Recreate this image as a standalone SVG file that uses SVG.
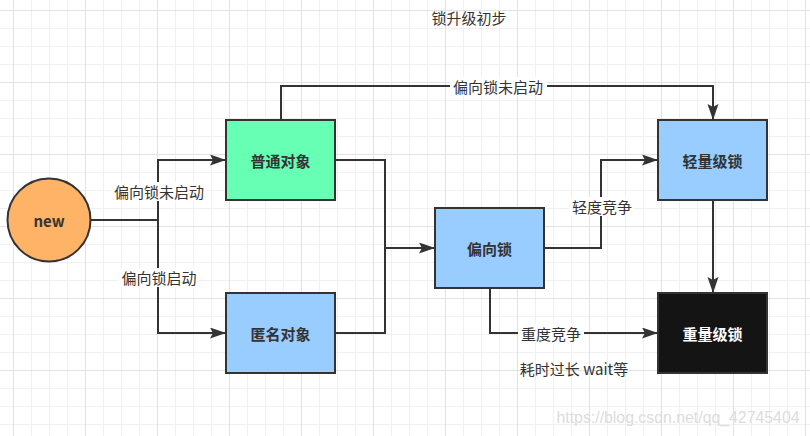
<svg xmlns="http://www.w3.org/2000/svg" width="810" height="436" viewBox="0 0 810 436">
  <defs>
    <pattern id="grid" patternUnits="userSpaceOnUse" x="13" y="10" width="72" height="72">
      <path d="M18.5,0 V72 M36.5,0 V72 M54.5,0 V72 M0,18.5 H72 M0,36.5 H72 M0,54.5 H72" stroke="#f0f0f0" stroke-width="1" fill="none"/>
      <path d="M0.5,0 V72 M0,0.5 H72" stroke="#e2e2e2" stroke-width="1" fill="none"/>
    </pattern>
    <marker id="arrow" markerUnits="userSpaceOnUse" markerWidth="18" markerHeight="12" refX="15" refY="5.5" orient="auto">
      <path d="M0,0 L16,5.5 L0,11 L3,5.5 Z" fill="#333333"/>
    </marker>
  </defs>
  <style>
    .edge { fill: none; stroke: #333333; stroke-width: 2; }
    .arr { marker-end: url(#arrow); }
    .box { stroke: #333333; stroke-width: 2; }
    .node-text { font-family: "Noto Sans CJK SC", "Liberation Sans", sans-serif; font-size: 15px; font-weight: bold; fill: #333333; text-anchor: middle; dominant-baseline: central; }
    .label { font-family: "Noto Sans CJK SC", "Liberation Sans", sans-serif; font-size: 15px; fill: #333333; text-anchor: middle; dominant-baseline: central; }
    .lbg { fill: #ffffff; }
  </style>

  <rect x="0" y="0" width="810" height="436" fill="#ffffff"/>
  <rect x="0" y="0" width="810" height="436" fill="url(#grid)"/>

  <text class="label" x="469" y="17">锁升级初步</text>

  <g id="connectors">
    <path class="edge" d="M91,220 H158" stroke-width="3"/>
    <path class="edge arr" d="M158,220 V160 H225"/>
    <path class="edge arr" d="M158,220 V333 H225"/>
    <path class="edge arr" d="M335,160 H385 V248 H434"/>
    <path class="edge" d="M335,333 H385 V248"/>
    <path class="edge arr" d="M281,120 V86 H713 V119"/>
    <path class="edge arr" d="M544,248 H601 V160 H657"/>
    <path class="edge arr" d="M490,288 V333 H657"/>
    <path class="edge arr" d="M713,200 V292"/>

    <rect class="lbg" x="111" y="182" width="96" height="19"/>
    <text class="label" x="159" y="191">偏向锁未启动</text>
    <rect class="lbg" x="119" y="268" width="80" height="19"/>
    <text class="label" x="159" y="277">偏向锁启动</text>
    <rect class="lbg" x="450" y="77" width="97" height="19"/>
    <text class="label" x="498" y="86">偏向锁未启动</text>
    <rect class="lbg" x="569" y="197" width="65" height="19"/>
    <text class="label" x="602" y="206">轻度竞争</text>
    <rect class="lbg" x="518" y="324" width="66" height="19"/>
    <text class="label" x="551" y="333">重度竞争</text>
  </g>

  <g id="node-new">
    <circle class="box" cx="49" cy="220" r="41.5" fill="#FFB366"/>
    <text class="node-text" x="49" y="220" font-size="16">new</text>
  </g>
  <g id="node-putong">
    <rect class="box" x="226" y="120" width="109" height="80" fill="#66FFB3"/>
    <text class="node-text" x="280.5" y="160">普通对象</text>
  </g>
  <g id="node-niming">
    <rect class="box" x="226" y="293" width="109" height="80" fill="#99CCFF"/>
    <text class="node-text" x="280.5" y="333">匿名对象</text>
  </g>
  <g id="node-pianxiang">
    <rect class="box" x="435" y="208" width="109" height="80" fill="#99CCFF"/>
    <text class="node-text" x="489.5" y="248">偏向锁</text>
  </g>
  <g id="node-qingliang">
    <rect class="box" x="658" y="120" width="109" height="80" fill="#99CCFF"/>
    <text class="node-text" x="712.5" y="160">轻量级锁</text>
  </g>
  <g id="node-zhongliang">
    <rect class="box" x="658" y="293" width="109" height="80" fill="#141414"/>
    <text class="node-text" x="712.5" y="333" fill="#ffffff" style="fill:#ffffff">重量级锁</text>
  </g>

  <text class="label" x="574" y="368">耗时过长 wait等</text>

  <text x="678" y="417" font-family="Liberation Sans, sans-serif" font-size="16" fill="#dcdcdc" text-anchor="middle" dominant-baseline="central" textLength="243" lengthAdjust="spacingAndGlyphs">https://blog.csdn.net/qq_42745404</text>
</svg>
